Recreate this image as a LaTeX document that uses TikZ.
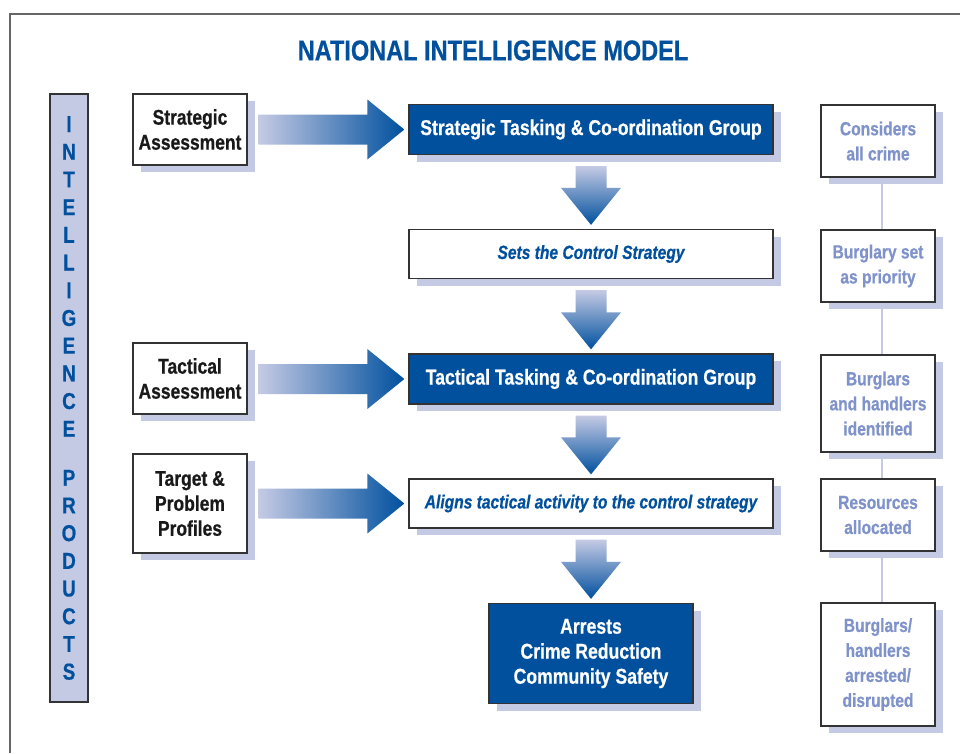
\documentclass[tikz,border=0pt]{standalone}
\usepackage{fontspec}
\setmainfont{Liberation Sans}[FakeStretch=0.82,
  BoldFeatures={FakeBold=0.6}, BoldItalicFeatures={FakeBold=0.6}]
\usetikzlibrary{shadows,calc}
\definecolor{nblue}{RGB}{0,80,158}
\definecolor{shadc}{RGB}{197,202,228}
\definecolor{rtext}{RGB}{127,146,201}
\definecolor{boxc}{RGB}{51,51,51}
\definecolor{framec}{RGB}{102,102,102}
\tikzset{
  box/.style={draw=boxc, line width=1.3pt, inner sep=2pt, align=center,
    drop shadow={shadow xshift=8pt, shadow yshift=-7pt, fill=shadc, opacity=1}},
  leftbox/.style={box, fill=white, minimum width=114pt,
    font=\fontsize{21.3}{25}\selectfont\bfseries, text=black!90},
  darkbox/.style={box, fill=nblue, minimum width=364pt,
    font=\fontsize{21.5}{25}\selectfont\bfseries, text=white},
  italbox/.style={box, fill=white, minimum width=364pt,
    font=\fontsize{19}{24}\selectfont\bfseries\itshape, text=nblue},
  rightbox/.style={box, fill=white, minimum width=114pt,
    font=\fontsize{19}{25}\selectfont\bfseries, text=rtext},
  rline/.style={draw=shadc, line width=2.5pt}
}
\newcommand\harrow[2]{%
  \shade[left color=shadc, right color=nblue] let \p1=(#1.east), \p2=(#2.west) in
   (\x1+11pt,\y2+15pt) -- (\x2-41pt,\y2+15pt) -- (\x2-41pt,\y2+30pt) -- (\x2-4pt,\y2)
   -- (\x2-41pt,\y2-30pt) -- (\x2-41pt,\y2-15pt) -- (\x1+11pt,\y2-15pt) -- cycle;}
\newcommand\varrow[2]{%
  \shade[top color=shadc, bottom color=nblue] let \p1=(#1.south), \p2=(#2.north) in
   (\x1-15.5pt,\y1-11pt) -- (\x1+15.5pt,\y1-11pt) -- (\x1+15.5pt,\y2+41pt)
   -- (\x1+30pt,\y2+41pt) -- (\x1,\y2+4pt) -- (\x1-30pt,\y2+41pt)
   -- (\x1-15.5pt,\y2+41pt) -- cycle;}
\begin{document}
\begin{tikzpicture}[x=1pt,y=-1pt]
\useasboundingbox (0,0) rectangle (960,753);
\fill[white] (0,0) rectangle (960,753);
\draw[framec, line width=1.5pt] (10,753) -- (10,14) -- (960,14);

\node[text=nblue, font=\fontsize{28.7}{32}\selectfont\bfseries] (title) at (493,50.5) {NATIONAL INTELLIGENCE MODEL};

\node[draw=boxc, line width=1.3pt, fill=shadc, minimum width=38pt, minimum height=608pt,
  inner sep=0pt, align=center, text=nblue, font=\fontsize{23}{27.7}\selectfont\bfseries]
  (bar) at (69,398) {I\\N\\T\\E\\L\\L\\I\\G\\E\\N\\C\\E\\[21.3pt]P\\R\\O\\D\\U\\C\\T\\S};

% left column
\node[leftbox, minimum height=71pt] (sa) at (190,129.5) {Strategic\\Assessment};
\node[leftbox, minimum height=71pt] (ta) at (190,378.5) {Tactical\\Assessment};
\node[leftbox, minimum height=99pt] (tp) at (190,503.5) {Target \&\\Problem\\Profiles};

% centre column
\node[darkbox, minimum height=50pt] (stg) at (591,129.5) {Strategic Tasking \& Co-ordination Group};
\node[italbox, minimum height=49pt] (scs) at (591,254) {Sets the Control Strategy};
\node[darkbox, minimum height=50pt] (ttg) at (591,379) {Tactical Tasking \& Co-ordination Group};
\node[italbox, minimum height=49pt] (al) at (591,503.5) {Aligns tactical activity to the control strategy};
\node[darkbox, minimum width=204pt, minimum height=100pt] (arr) at (591,653.5) {Arrests\\Crime Reduction\\Community Safety};

% right column
\node[rightbox, minimum height=72pt] (r1) at (878,141) {Considers\\all crime};
\node[rightbox, minimum height=72pt] (r2) at (878,266) {Burglary set\\as priority};
\node[rightbox, minimum height=97pt] (r3) at (878,403.5) {Burglars\\and handlers\\identified};
\node[rightbox, minimum height=72pt] (r4) at (878,515) {Resources\\allocated};
\node[rightbox, minimum height=123pt] (r5) at (878,664.5) {Burglars/\\handlers\\arrested/\\disrupted};

\draw[rline] ([xshift=4pt]r1.south) -- ([xshift=4pt]r2.north);
\draw[rline] ([xshift=4pt]r2.south) -- ([xshift=4pt]r3.north);
\draw[rline] ([xshift=4pt]r3.south) -- ([xshift=4pt]r4.north);
\draw[rline] ([xshift=4pt]r4.south) -- ([xshift=4pt]r5.north);

% block arrows
\harrow{sa}{stg}
\harrow{ta}{ttg}
\harrow{tp}{al}
\varrow{stg}{scs}
\varrow{scs}{ttg}
\varrow{ttg}{al}
\varrow{al}{arr}
\end{tikzpicture}
\end{document}
